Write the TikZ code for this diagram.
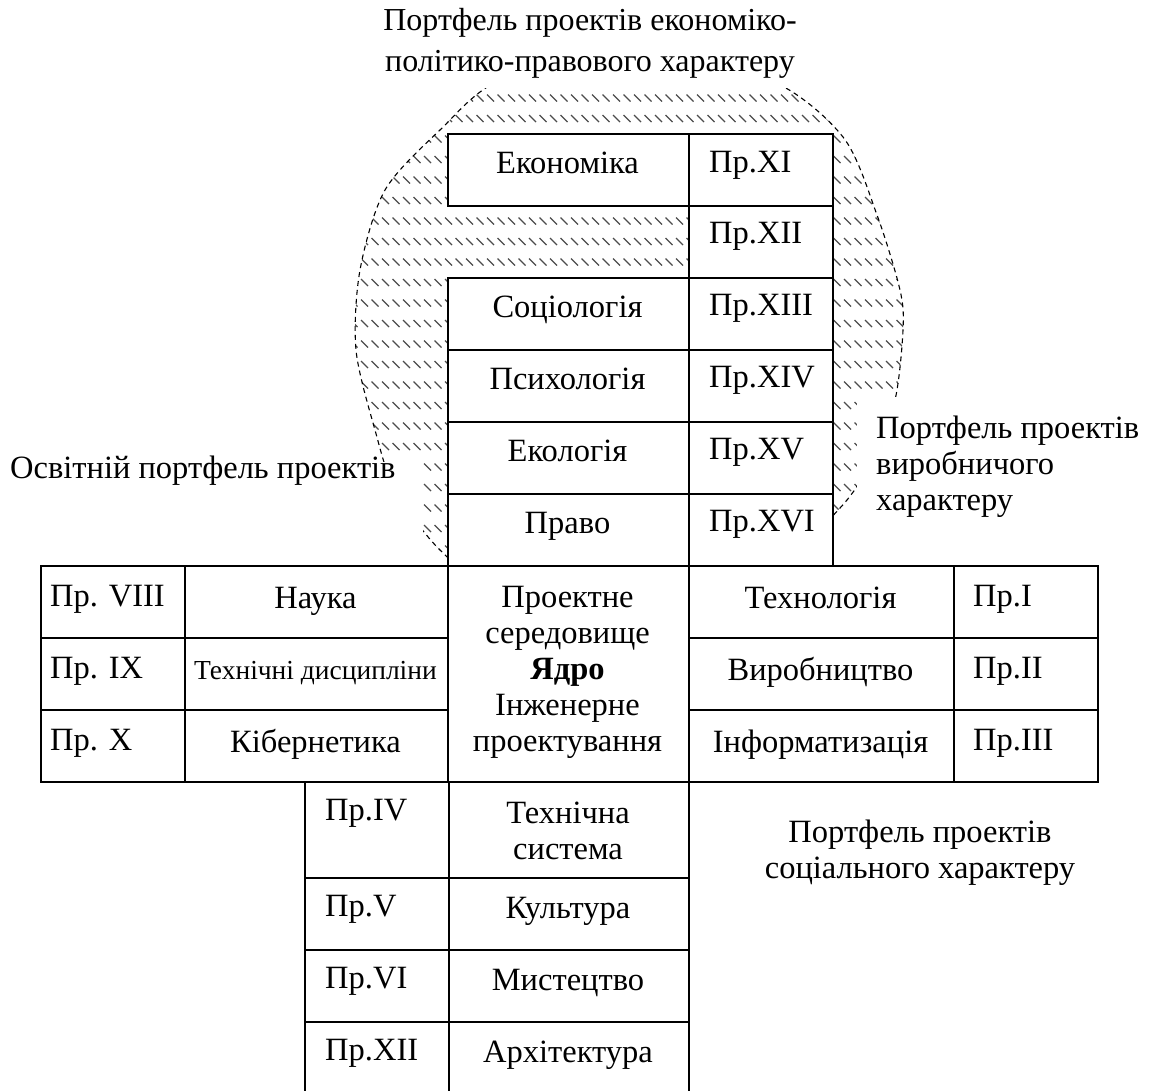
\documentclass[tikz,border=0pt]{standalone}
\usepackage{fontspec}
\setmainfont{Liberation Serif}
\begin{document}
\begin{tikzpicture}[x=1pt, y=-1pt,
  cell/.style={draw, line width=2pt, fill=white, inner sep=0pt, anchor=north west},
  main/.style={font=\fontsize{32.5}{36}\selectfont, inner sep=0pt, anchor=base},
  num/.style={font=\fontsize{32.5}{36}\selectfont, inner sep=0pt, anchor=base west},
  note/.style={font=\fontsize{32.5}{36}\selectfont, inner sep=0pt},
  cover/.style={fill=white, inner sep=0pt, anchor=north west},
  hatch/.style={draw=black!70, line width=1.2pt},
  rim/.style={draw=black, line width=1.1pt, dash pattern=on 5pt off 4pt}
]
\useasboundingbox (0,0) rectangle (1153,1090);
\clip (0,0) rectangle (1153,1090);

% outline of the hatched zone
\def\rimpath{plot[smooth cycle] coordinates {(628,45) (770,80) (843,137) (877,215)
  (900,290) (903,330) (895,400) (872,460) (840,508) (760,580) (628,612) (500,592)
  (440,550) (395,490) (375,430) (356,350) (360,270) (385,190) (440,130) (500,80)}}

% hatched zone: rows of short diagonal strokes, 20.5 apart
\begin{scope}
  \clip \rimpath;
  \foreach \k in {0,...,30} {
    \pgfmathsetmacro\y{36.5+20.5*\k}
    \draw[hatch] \foreach \x in {340,350.5,...,925} {(\x,\y-3.5) -- ++(7,7)};
  }
\end{scope}
\draw[rim] \rimpath;

% white ground under the portfolio captions
\node[cover, minimum width=640, minimum height=88] (covTop) at (300,0) {};
\node[cover, minimum width=423, minimum height=110] (covLeft) at (0,462) {};
\node[cover, minimum width=296, minimum height=200] (covRight) at (857,397) {};

% upper column
\node[cell, minimum width=241, minimum height=72] (econ) at (447,133) {};
\node[cell, minimum width=144, minimum height=72] (p11) at (688,133) {};
\node[cell, minimum width=144, minimum height=72] (p12) at (688,205) {};
\node[cell, minimum width=241, minimum height=72] (soc) at (447,277) {};
\node[cell, minimum width=144, minimum height=72] (p13) at (688,277) {};
\node[cell, minimum width=241, minimum height=72] (psy) at (447,349) {};
\node[cell, minimum width=144, minimum height=72] (p14) at (688,349) {};
\node[cell, minimum width=241, minimum height=72] (eco) at (447,421) {};
\node[cell, minimum width=144, minimum height=72] (p15) at (688,421) {};
\node[cell, minimum width=241, minimum height=72] (law) at (447,493) {};
\node[cell, minimum width=144, minimum height=72] (p16) at (688,493) {};

% middle band
\node[cell, minimum width=144, minimum height=72] (p8) at (40,565) {};
\node[cell, minimum width=263, minimum height=72] (sci) at (184,565) {};
\node[cell, minimum width=144, minimum height=72] (p9) at (40,637) {};
\node[cell, minimum width=263, minimum height=72] (tdis) at (184,637) {};
\node[cell, minimum width=144, minimum height=72] (p10) at (40,709) {};
\node[cell, minimum width=263, minimum height=72] (cyb) at (184,709) {};
\node[cell, minimum width=241, minimum height=216] (core) at (447,565) {};
\node[cell, minimum width=265, minimum height=72] (techn) at (688,565) {};
\node[cell, minimum width=144, minimum height=72] (p1) at (953,565) {};
\node[cell, minimum width=265, minimum height=72] (prod) at (688,637) {};
\node[cell, minimum width=144, minimum height=72] (p2) at (953,637) {};
\node[cell, minimum width=265, minimum height=72] (inf) at (688,709) {};
\node[cell, minimum width=144, minimum height=72] (p3) at (953,709) {};

% lower column
\node[cell, minimum width=144, minimum height=96] (p4) at (304,781) {};
\node[cell, minimum width=240, minimum height=96] (tsys) at (448,781) {};
\node[cell, minimum width=144, minimum height=72] (p5) at (304,877) {};
\node[cell, minimum width=240, minimum height=72] (cult) at (448,877) {};
\node[cell, minimum width=144, minimum height=72] (p6) at (304,949) {};
\node[cell, minimum width=240, minimum height=72] (art) at (448,949) {};
\node[cell, minimum width=144, minimum height=90] (p12b) at (304,1021) {};
\node[cell, minimum width=240, minimum height=90] (arch) at (448,1021) {};

% texts of the upper column
\node[main] (tEcon) at (567.5,173) {Економіка};
\node[num] (tP11) at (709,172) {Пр.XI};
\node[num] (tP12) at (709,243) {Пр.XII};
\node[main] (tSoc) at (567.5,317) {Соціологія};
\node[num] (tP13) at (709,315) {Пр.XIII};
\node[main] (tPsy) at (567.5,389) {Психологія};
\node[num] (tP14) at (709,387) {Пр.XIV};
\node[main] (tEco) at (567.5,461) {Екологія};
\node[num] (tP15) at (709,459) {Пр.XV};
\node[main] (tLaw) at (567.5,533) {Право};
\node[num] (tP16) at (709,531) {Пр.XVI};

% texts of the middle band
\node[num] (tP8) at (50,606) {Пр. VIII};
\node[main] (tSci) at (315.5,608) {Наука};
\node[num] (tP9) at (50,678) {Пр. IX};
\node[main, font=\fontsize{27.5}{31}\selectfont] (tTdis) at (315.5,679) {Технічні дисципліни};
\node[num] (tP10) at (50,750) {Пр. X};
\node[main] (tCyb) at (315.5,752) {Кібернетика};
\node[note, align=center] (tCore) at (567.5,672)
  {Проектне\\середовище\\\textbf{Ядро}\\Інженерне\\проектування};
\node[main] (tTechn) at (820.5,608) {Технологія};
\node[num] (tP1) at (973,606) {Пр.I};
\node[main] (tProd) at (820.5,680) {Виробництво};
\node[num] (tP2) at (973,678) {Пр.II};
\node[main] (tInf) at (820.5,752) {Інформатизація};
\node[num] (tP3) at (973,750) {Пр.III};

% texts of the lower column
\node[num] (tP4) at (325,820) {Пр.IV};
\node[note, align=center] (tTsys) at (568,831) {Технічна\\система};
\node[num] (tP5) at (325,916) {Пр.V};
\node[main] (tCult) at (568,918) {Культура};
\node[num] (tP6) at (325,988) {Пр.VI};
\node[main] (tArt) at (568,990) {Мистецтво};
\node[num] (tP12b) at (325,1060) {Пр.XII};
\node[main] (tArch) at (568,1062) {Архітектура};

% portfolio captions
\node[note, align=center, font=\fontsize{32}{41}\selectfont] (capTop) at (590,43)
  {Портфель проектів економіко-\\політико-правового характеру};
\node[num] (capLeft) at (10,478) {Освітній портфель проектів};
\node[note, align=left, anchor=west] (capRight) at (876,466.5)
  {Портфель проектів\\виробничого\\характеру};
\node[note, align=center] (capSoc) at (920,853)
  {Портфель проектів\\соціального характеру};
\end{tikzpicture}
\end{document}
